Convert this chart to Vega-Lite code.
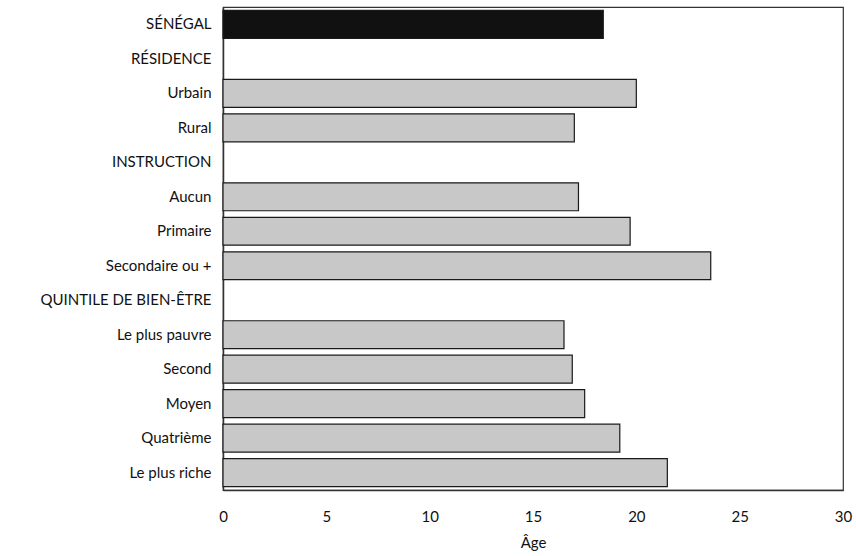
{
  "$schema": "https://vega.github.io/schema/vega-lite/v6.json",
  "width": 620,
  "height": 483,
  "autosize": {"type": "none"},
  "padding": {"left": 223, "top": 7, "right": 13, "bottom": 66},
  "background": "white",
  "config": {
    "font": "Lato",
    "view": {"stroke": "#333", "strokeWidth": 1.2},
    "axis": {"labelFont": "Lato", "titleFont": "Lato", "labelColor": "#111", "titleColor": "#111", "labelFontSize": 15, "titleFontSize": 15, "titleFontWeight": "normal", "grid": false, "ticks": false, "domainColor": "#333", "domainWidth": 1.5}
  },
  "data": {
    "values": [
      {"categorie": "SÉNÉGAL", "age": 18.4, "niveau": "Ensemble"},
      {"categorie": "RÉSIDENCE", "age": null, "niveau": "Titre"},
      {"categorie": "Urbain", "age": 20.0, "niveau": "Sous-groupe"},
      {"categorie": "Rural", "age": 17.0, "niveau": "Sous-groupe"},
      {"categorie": "INSTRUCTION", "age": null, "niveau": "Titre"},
      {"categorie": "Aucun", "age": 17.2, "niveau": "Sous-groupe"},
      {"categorie": "Primaire", "age": 19.7, "niveau": "Sous-groupe"},
      {"categorie": "Secondaire ou +", "age": 23.6, "niveau": "Sous-groupe"},
      {"categorie": "QUINTILE DE BIEN-ÊTRE", "age": null, "niveau": "Titre"},
      {"categorie": "Le plus pauvre", "age": 16.5, "niveau": "Sous-groupe"},
      {"categorie": "Second", "age": 16.9, "niveau": "Sous-groupe"},
      {"categorie": "Moyen", "age": 17.5, "niveau": "Sous-groupe"},
      {"categorie": "Quatrième", "age": 19.2, "niveau": "Sous-groupe"},
      {"categorie": "Le plus riche", "age": 21.5, "niveau": "Sous-groupe"}
    ]
  },
  "mark": {"type": "bar", "stroke": "#1a1a1a", "strokeWidth": 1.2},
  "encoding": {
    "y": {
      "field": "categorie",
      "type": "nominal",
      "sort": null,
      "scale": {
        "domain": ["SÉNÉGAL", "RÉSIDENCE", "Urbain", "Rural", "INSTRUCTION", "Aucun", "Primaire", "Secondaire ou +", "QUINTILE DE BIEN-ÊTRE", "Le plus pauvre", "Second", "Moyen", "Quatrième", "Le plus riche"],
        "paddingInner": 0.19,
        "paddingOuter": 0.1
      },
      "axis": {"title": null, "labelPadding": 12, "domain": true}
    },
    "x": {
      "field": "age",
      "type": "quantitative",
      "scale": {"domain": [0, 30]},
      "axis": {"title": "Âge", "values": [0, 5, 10, 15, 20, 25, 30], "labelFlush": false, "labelPadding": 19, "titlePadding": 11}
    },
    "fill": {
      "field": "niveau",
      "type": "nominal",
      "scale": {"domain": ["Ensemble", "Sous-groupe", "Titre"], "range": ["#111111", "#c8c8c8", "#ffffff"]},
      "legend": null
    }
  }
}
